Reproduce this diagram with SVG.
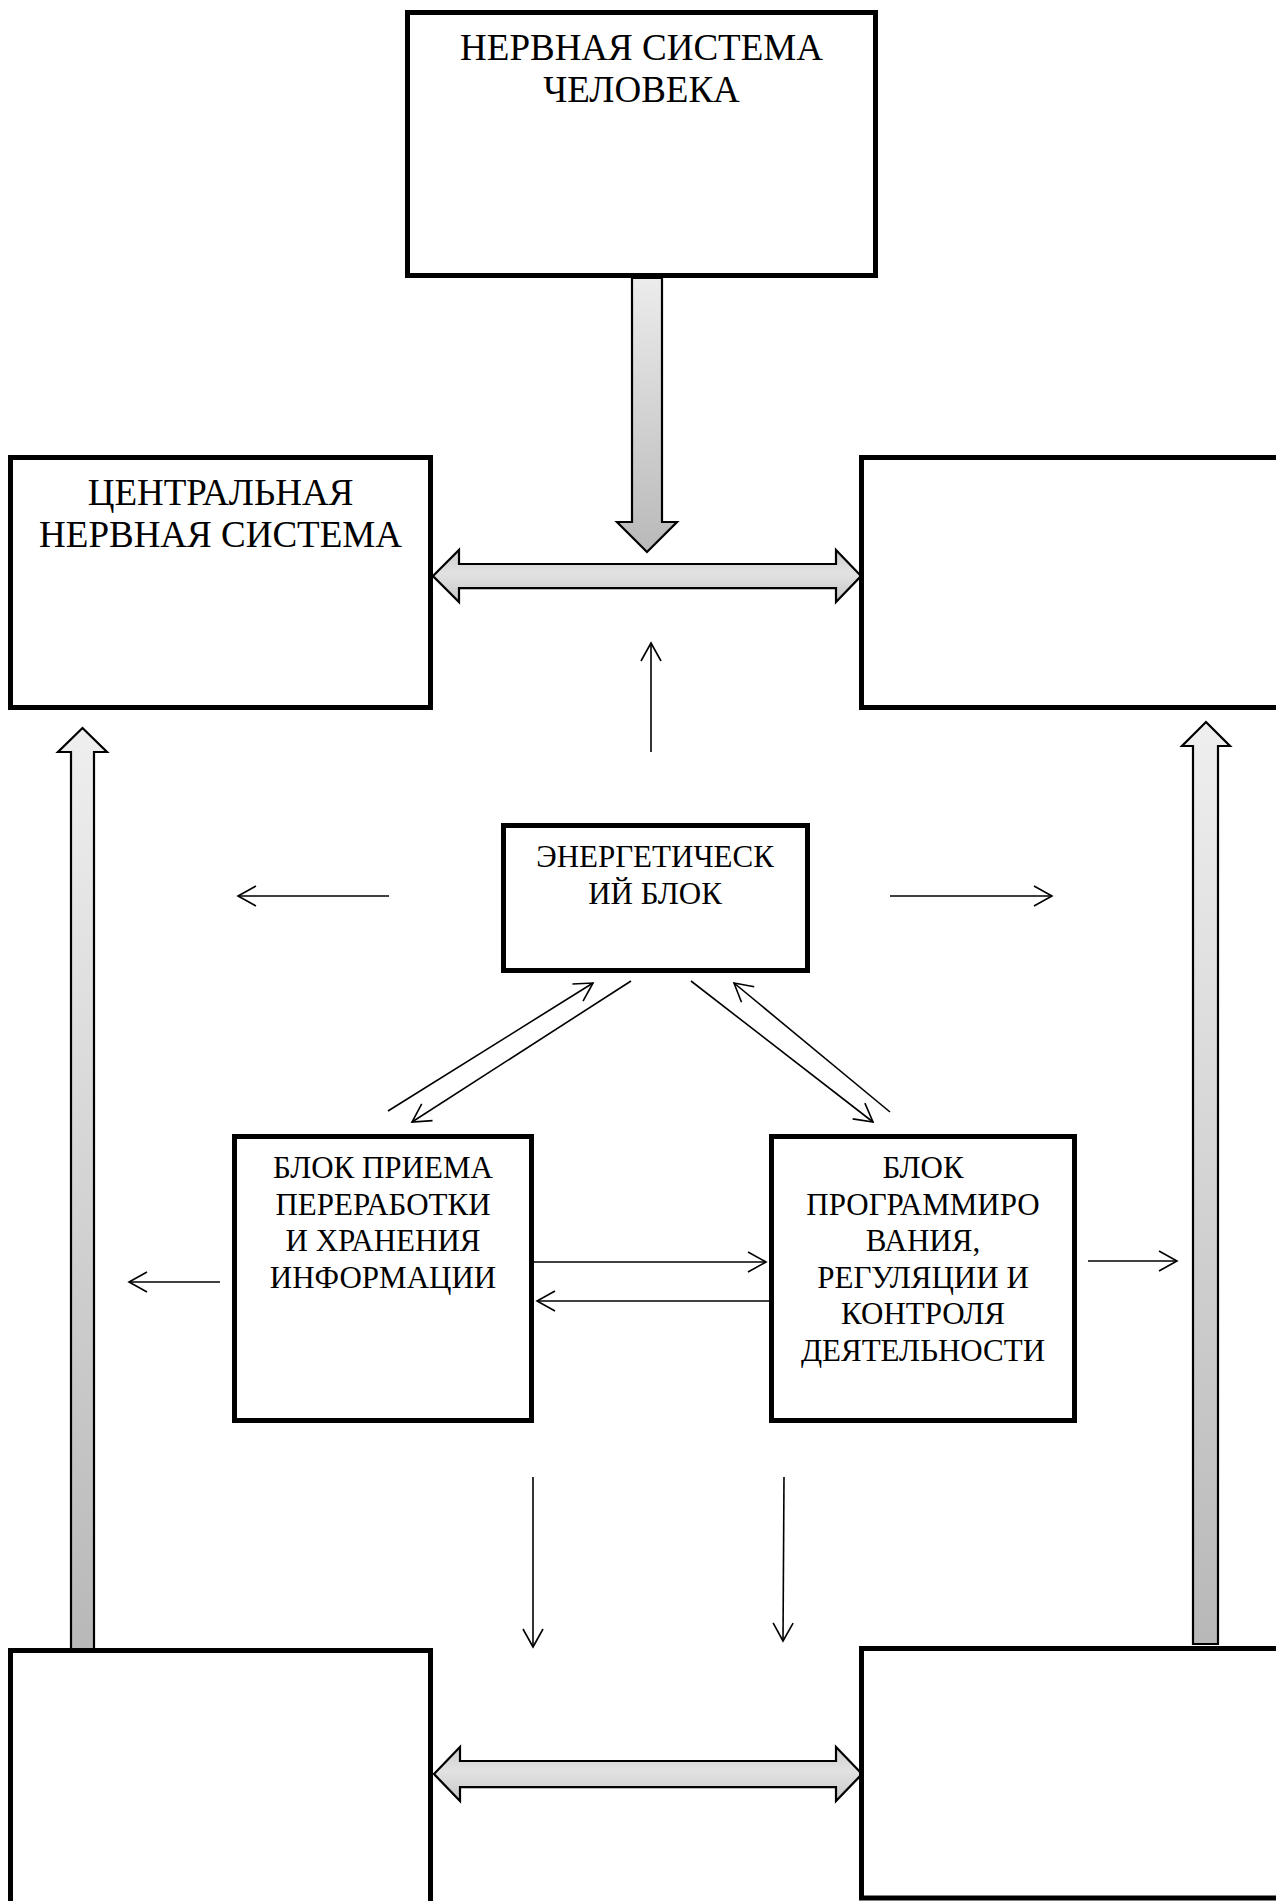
<svg xmlns="http://www.w3.org/2000/svg" width="1276" height="1901" viewBox="0 0 1276 1901">
  <style>
    .box { fill: #fff; stroke: #000; stroke-width: 5; }
    .big { font-family: "Liberation Serif", "Times New Roman", serif; font-size: 37px; fill: #000; text-anchor: middle; }
    .mid { font-family: "Liberation Serif", "Times New Roman", serif; font-size: 31px; fill: #000; text-anchor: middle; }
    .thin { stroke: #000; stroke-width: 1.6; fill: none; marker-end: url(#open); }
    .fat { stroke: #000; stroke-width: 2.2; stroke-linejoin: miter; }
    .shadow { fill: #8a8a8a; opacity: 0.6; }
  </style>
  <defs>
    <marker id="open" viewBox="-20 -12 22 24" refX="0" refY="0" markerWidth="22" markerHeight="24" markerUnits="userSpaceOnUse" orient="auto">
      <path d="M-18,-10 L0,0 L-18,10" fill="none" stroke="#000" stroke-width="1.6"/>
    </marker>
    <linearGradient id="gH" x1="0" y1="0" x2="0" y2="1">
      <stop offset="0" stop-color="#cdcdcd"/>
      <stop offset="0.45" stop-color="#e2e2e2"/>
      <stop offset="1" stop-color="#c6c6c6"/>
    </linearGradient>
    <linearGradient id="gDown" x1="0" y1="0" x2="0" y2="1">
      <stop offset="0" stop-color="#ececec"/>
      <stop offset="1" stop-color="#b9b9b9"/>
    </linearGradient>
    <linearGradient id="gUp" x1="0" y1="0" x2="0" y2="1">
      <stop offset="0" stop-color="#efefef"/>
      <stop offset="1" stop-color="#b8b8b8"/>
    </linearGradient>
  </defs>

  <g id="connectors">
    <!-- big block arrows -->
    <path class="shadow" d="M433,578 L459,553 L459,566 L836,566 L836,553 L861,578 L836,603 L836,590 L459,590 L459,603 Z"/>
    <path class="fat" fill="url(#gH)" d="M433,576 L459,550 L459,564 L836,564 L836,550 L861,576 L836,602 L836,588 L459,588 L459,602 Z"/>

    <path class="shadow" d="M434,1776 L460,1750 L460,1763 L836,1763 L836,1750 L862,1776 L836,1802 L836,1789 L460,1789 L460,1802 Z"/>
    <path class="fat" fill="url(#gH)" d="M434,1774 L460,1747 L460,1761 L836,1761 L836,1747 L862,1774 L836,1801 L836,1787 L460,1787 L460,1801 Z"/>

    <path class="fat" fill="url(#gDown)" d="M632,278 L662,278 L662,522 L677,522 L647,552 L617,522 L632,522 Z"/>

    <path class="fat" fill="url(#gUp)" d="M71,1651 L71,752 L58,752 L82.5,728 L107,752 L94,752 L94,1651 Z"/>
    <path class="fat" fill="url(#gUp)" d="M1193,1644 L1193,746 L1182,746 L1206,722 L1230,746 L1218,746 L1218,1644 Z"/>

    <!-- thin arrows -->
    <line class="thin" x1="651" y1="752" x2="651" y2="643"/>
    <line class="thin" x1="389" y1="896" x2="238" y2="896"/>
    <line class="thin" x1="890" y1="896" x2="1052" y2="896"/>
    <line class="thin" x1="388" y1="1111" x2="593" y2="983"/>
    <line class="thin" x1="631" y1="981" x2="412" y2="1122"/>
    <line class="thin" x1="691" y1="981" x2="873" y2="1122"/>
    <line class="thin" x1="890" y1="1112" x2="734" y2="983"/>
    <line class="thin" x1="534" y1="1262" x2="766" y2="1262"/>
    <line class="thin" x1="770" y1="1301" x2="537" y2="1301"/>
    <line class="thin" x1="220" y1="1282" x2="129" y2="1282"/>
    <line class="thin" x1="1088" y1="1261" x2="1177" y2="1261"/>
    <line class="thin" x1="533" y1="1477" x2="533" y2="1647"/>
    <line class="thin" x1="784" y1="1477" x2="783" y2="1641"/>
  </g>

  <g id="node-nervous-system">
    <rect class="box" x="407.5" y="12.5" width="468" height="263"/>
    <text class="big" x="641.5" y="60">НЕРВНАЯ СИСТЕМА</text>
    <text class="big" x="641.5" y="102">ЧЕЛОВЕКА</text>
  </g>

  <g id="node-cns">
    <rect class="box" x="10.5" y="457.5" width="420" height="250"/>
    <text class="big" x="220.5" y="505">ЦЕНТРАЛЬНАЯ</text>
    <text class="big" x="220.5" y="547">НЕРВНАЯ СИСТЕМА</text>
  </g>

  <g id="node-top-right">
    <rect class="box" x="861.5" y="457.5" width="500" height="250"/>
  </g>

  <g id="node-energy">
    <rect class="box" x="503.5" y="825.5" width="304" height="145"/>
    <text class="mid" x="655" y="867">ЭНЕРГЕТИЧЕСК</text>
    <text class="mid" x="655" y="904">ИЙ БЛОК</text>
  </g>

  <g id="node-info">
    <rect class="box" x="234.5" y="1136.5" width="297" height="284"/>
    <text class="mid" x="383" y="1178">БЛОК ПРИЕМА</text>
    <text class="mid" x="383" y="1214.5">ПЕРЕРАБОТКИ</text>
    <text class="mid" x="383" y="1251">И ХРАНЕНИЯ</text>
    <text class="mid" x="383" y="1287.5">ИНФОРМАЦИИ</text>
  </g>

  <g id="node-programming">
    <rect class="box" x="771.5" y="1136.5" width="303" height="284"/>
    <text class="mid" x="923" y="1178">БЛОК</text>
    <text class="mid" x="923" y="1214.5">ПРОГРАММИРО</text>
    <text class="mid" x="923" y="1251">ВАНИЯ,</text>
    <text class="mid" x="923" y="1287.5">РЕГУЛЯЦИИ И</text>
    <text class="mid" x="923" y="1324">КОНТРОЛЯ</text>
    <text class="mid" x="923" y="1360.5">ДЕЯТЕЛЬНОСТИ</text>
  </g>

  <g id="node-bottom-left">
    <rect class="box" x="10.5" y="1650.5" width="420" height="300"/>
  </g>

  <g id="node-bottom-right">
    <rect class="box" x="861.5" y="1648.5" width="500" height="249.5"/>
  </g>
</svg>
